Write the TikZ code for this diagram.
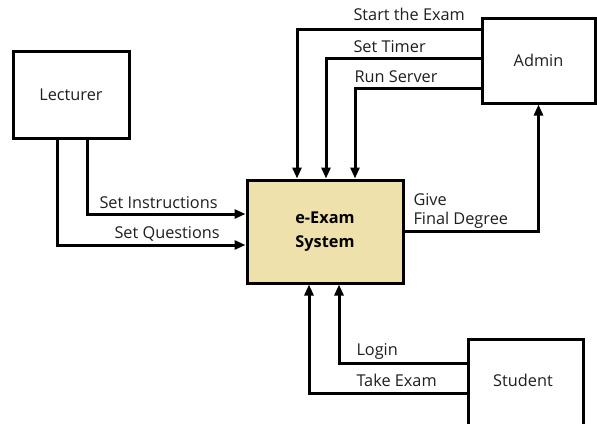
\documentclass[tikz,border=0pt]{standalone}
\usepackage{fontspec}
\setmainfont{Open Sans}
\usetikzlibrary{arrows.meta}
\definecolor{sysfill}{RGB}{239,225,172}
\definecolor{txt}{RGB}{30,30,35}

\begin{document}
\begin{tikzpicture}[
				x=1pt, y=-1pt,
				line width=3pt,
				font=\fontsize{16.3}{19}\selectfont\color{txt},
				entity/.style = {draw=black, inner sep=0pt},
				process/.style = {entity, fill=sysfill, align=center, font=\fontsize{16.3}{24}\selectfont\bfseries},
				flow/.style={-{Triangle[length=11pt, width=9pt]}},
				lbl/.style = {anchor=base west, inner sep=0pt}
				]
				\useasboundingbox (0,0) rectangle (597,423);
				
				\node[entity, minimum width=116pt, minimum height=87pt] (lecturer) at (71,94.5) {Lecturer};
				\node[entity, minimum width=113pt, minimum height=85pt] (admin) at (538.5,60.5) {Admin};
				\node[entity, minimum width=115pt, minimum height=110pt, anchor=north] (student) at (525.5,338) {};
				\node (studentname) at (523,380) {Student};
				\node[process, minimum width=156pt, minimum height=103pt] (sys) at (325,231.5) {e-Exam\\System};
				
				\draw[flow] ([yshift=31.5pt]admin.west) -| ([xshift=-28pt]sys.north);
				\draw[flow] ([yshift=2.5pt]admin.west) -| ([xshift=1pt]sys.north);
				\draw[flow] ([yshift=-27.5pt]admin.west) -| ([xshift=30pt]sys.north);
				\draw[flow] ([xshift=16pt]lecturer.south) |- ([yshift=17.5pt]sys.west);
				\draw[flow] ([xshift=-14pt]lecturer.south) |- ([yshift=-13.5pt]sys.west);
				\draw[flow] (sys.east) -| (admin.south);
				\draw[flow] ([yshift=-25pt]student.north west) -| ([xshift=14pt]sys.south);
				\draw[flow] ([yshift=-55pt]student.north west) -| ([xshift=-16pt]sys.south);
				
				\node[lbl] (startlbl) at (352,20) {Start the Exam};
				\node[lbl] (timerlbl) at (352,52) {Set Timer};
				\node[lbl] (serverlbl) at (353,82) {Run Server};
				\node[lbl] (instrlbl) at (98,208) {Set Instructions};
				\node[lbl] (questlbl) at (113,238) {Set Questions};
				\node[lbl] (givelbl) at (412,205) {Give};
				\node[lbl] (degreelbl) at (412,224) {Final Degree};
				\node[lbl] (loginlbl) at (355,355) {Login};
				\node[lbl] (takelbl) at (355,386) {Take Exam};
			\end{tikzpicture}
\end{document}
